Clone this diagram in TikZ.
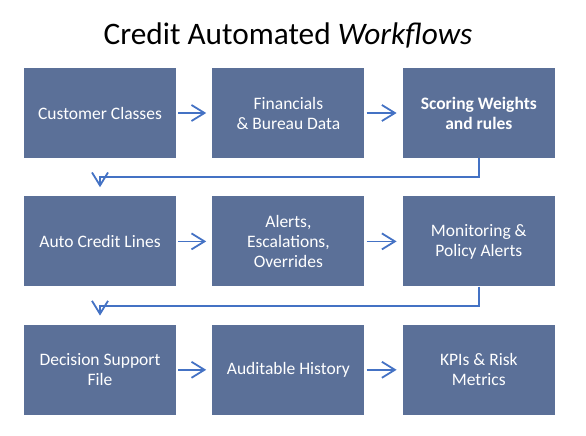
\documentclass[tikz,border=0pt]{standalone}
\usepackage{fontspec}
\setmainfont{Carlito}
\usetikzlibrary{positioning, arrows.meta}
\definecolor{boxblue}{HTML}{5B7098}
\definecolor{lineblue}{HTML}{4472C4}
\tikzset{
    stage/.style={fill=boxblue, text=white, minimum width=152pt, minimum height=90pt, align=center, inner sep=2pt, font=\fontsize{17.5}{20}\selectfont},
    flow/.style={draw=lineblue, line width=1.8pt, -{Straight Barb[length=13pt, width=16pt]}},
    node distance=38pt and 37pt
}

\begin{document}
\begin{tikzpicture}[x=1pt, y=1pt]
    \useasboundingbox (0,0) rectangle (586,-436);
    \node (title) at (288,-35) {\fontsize{31.3}{36}\selectfont Credit Automated \textit{Workflows}};

    \node[stage]                     (cust)    at (100,-113) {Customer Classes};
    \node[stage, right=36pt of cust] (fin)                   {Financials\\ \& Bureau Data};
    \node[stage, right=38pt of fin]  (score)                 {\bfseries Scoring Weights\\ \bfseries and rules};

    \node[stage, below=of cust]      (auto)                  {Auto Credit Lines};
    \node[stage, below=of fin]       (alerts)                {Alerts,\\ Escalations,\\ Overrides};
    \node[stage, below=of score]     (monitor)               {Monitoring \&\\ Policy Alerts};

    \node[stage, below=of auto]      (decision)              {Decision Support\\ File};
    \node[stage, below=of alerts]    (history)               {Auditable History};
    \node[stage, below=of monitor]   (kpi)                   {KPIs \& Risk\\ Metrics};

    % steps along each row
    \foreach \a/\b in {cust/fin, fin/score, auto/alerts, alerts/monitor, decision/history, history/kpi}
        \draw[flow] ([xshift=2pt]\a.east) -- ([xshift=-6pt]\b.west);

    % wrap to the next row
    \draw[flow] (score.south) -- ++(0,-19) -| ([yshift=9pt]auto.north);
    \draw[flow] (monitor.south) -- ++(0,-19) -| ([yshift=9pt]decision.north);
\end{tikzpicture}
\end{document}
